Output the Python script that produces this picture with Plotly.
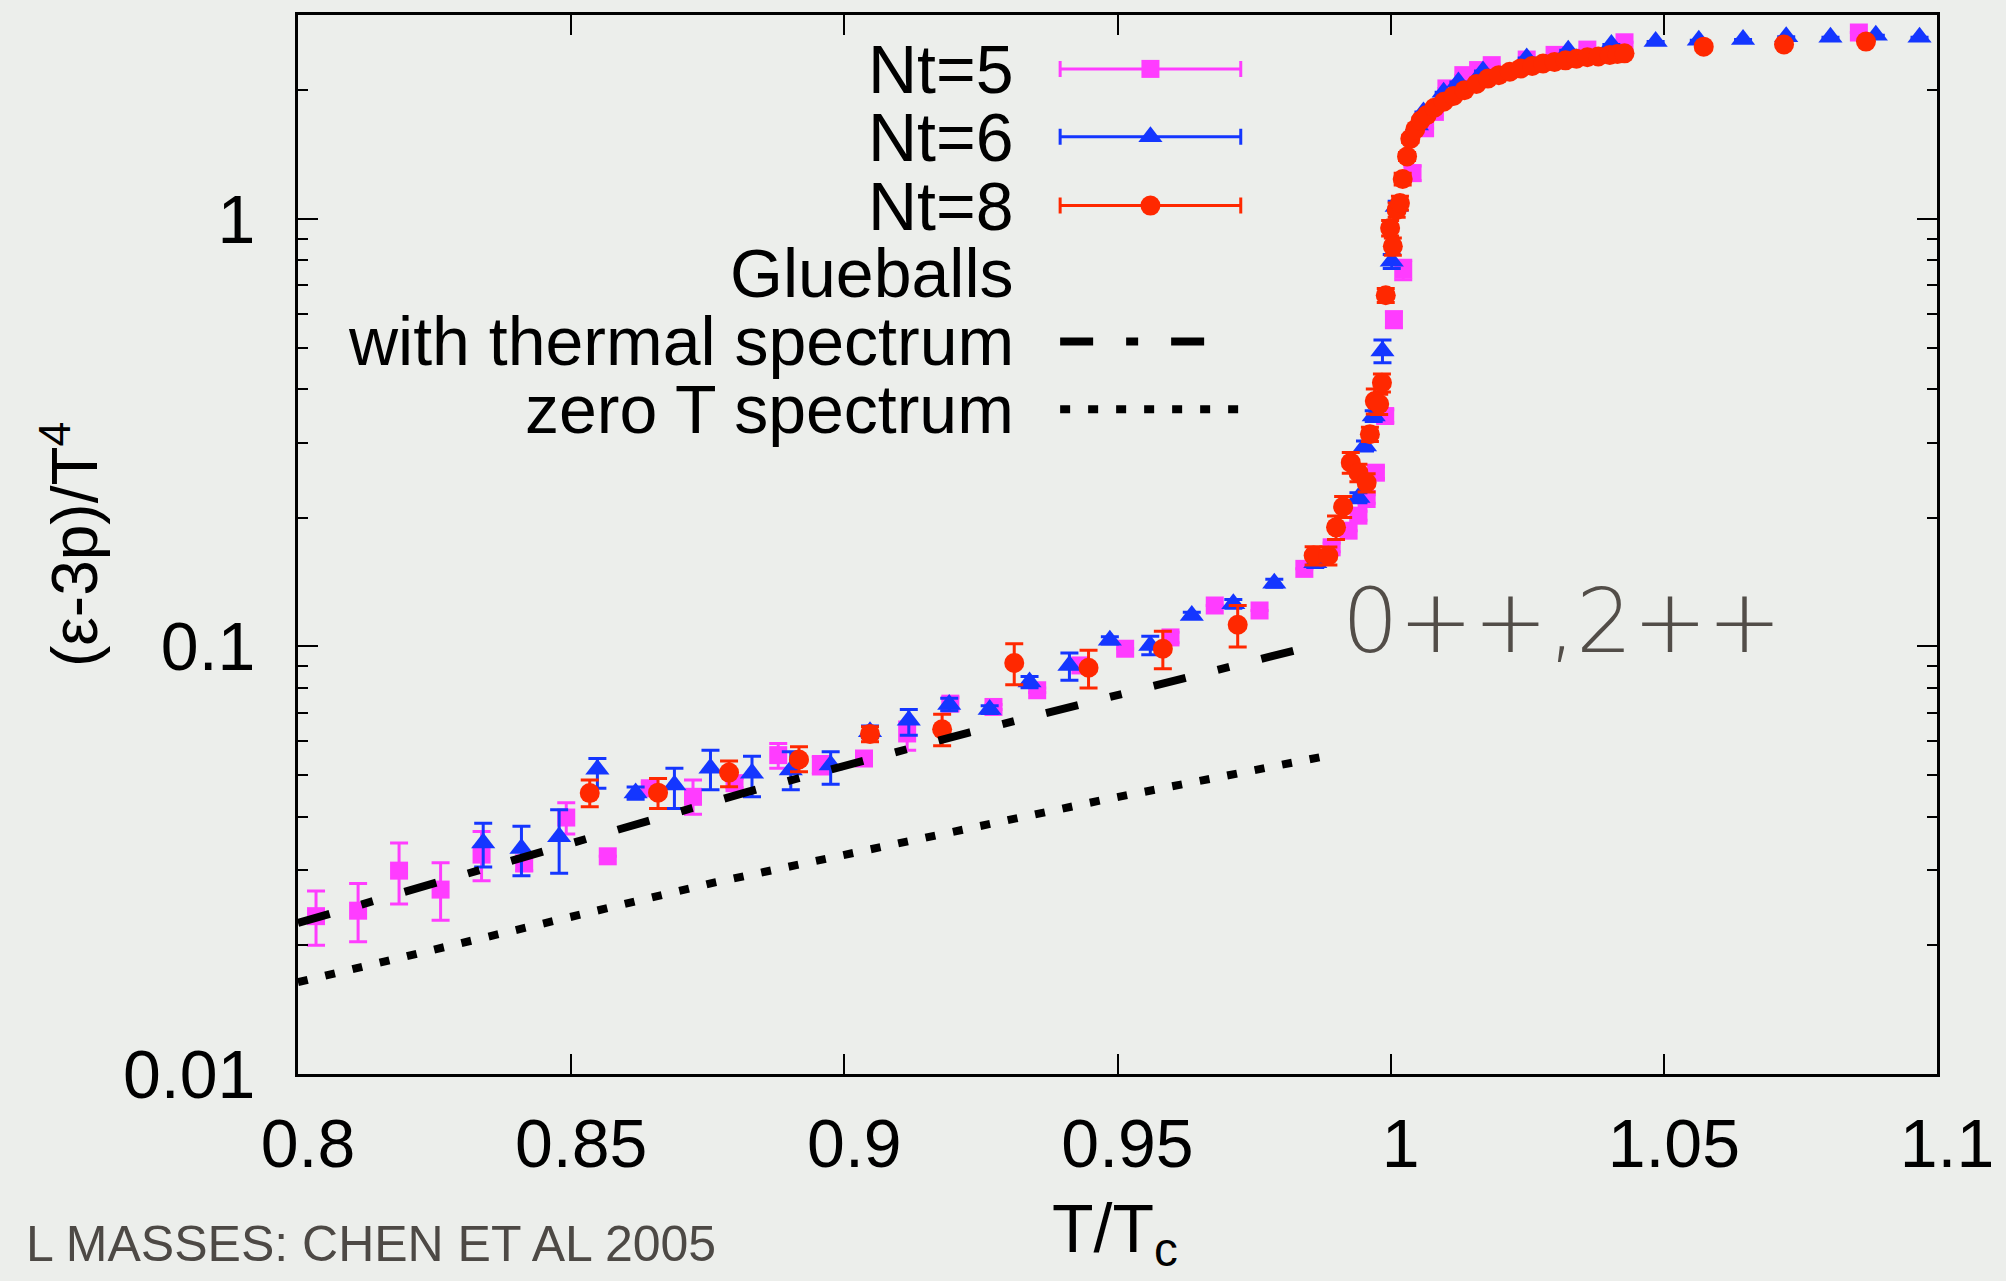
import numpy as np
import plotly.graph_objects as go

# ---------------- data ----------------
nt5_T = [0.8033, 0.8110, 0.8185, 0.8261, 0.8336, 0.8414, 0.8491, 0.8567, 0.8644, 0.8723,
         0.8799, 0.8879, 0.8957, 0.9036, 0.9115, 0.9194, 0.9273, 0.9353, 0.9432, 0.9514,
         0.9597, 0.9678, 0.9760, 0.9842, 0.9892, 0.9923, 0.9941, 0.9956, 0.9973, 0.9990,
         1.0006, 1.0023, 1.0040, 1.0063, 1.0081, 1.0102, 1.0133, 1.0160, 1.0185, 1.0249,
         1.0300, 1.0360, 1.0428, 1.0857]
nt5_y = [0.0234, 0.0241, 0.0299, 0.0270, 0.0326, 0.0311, 0.0398, 0.0323, 0.0466, 0.0445,
         0.0479, 0.0557, 0.0528, 0.0547, 0.0626, 0.0735, 0.0722, 0.0790, 0.0903, 0.0988,
         0.1050, 0.1247, 0.1214, 0.1519, 0.1706, 0.1866, 0.2023, 0.2213, 0.2550, 0.3460,
         0.5820, 0.7610, 1.2800, 1.6300, 1.7800, 2.0200, 2.1700, 2.2300, 2.2900, 2.3600,
         2.4200, 2.4900, 2.5900, 2.7300]
nt5_ep = [0.0034, 0.0038, 0.0048, 0.0042, 0.0043, 0.0012, 0.0033, 0.0, 0.0015, 0.0042,
          0.0012, 0.0036, 0.0025, 0.0010, 0.0040, 0.0025, 0.0010, 0.0010, 0.0020, 0.0,
          0.0030, 0.0, 0.0, 0.0, 0.0040, 0.0, 0.0050, 0.0050, 0.0080, 0.0120,
          0.0250, 0.0400, 0.0500, 0.0, 0.0, 0.0, 0.0, 0.0, 0.0, 0.0,
          0.0, 0.0, 0.0, 0.0]
nt5_em = [0.0034, 0.0037, 0.0049, 0.0041, 0.0043, 0.0012, 0.0034, 0.0, 0.0015, 0.0040,
          0.0012, 0.0038, 0.0025, 0.0010, 0.0054, 0.0025, 0.0010, 0.0010, 0.0020, 0.0,
          0.0030, 0.0, 0.0, 0.0, 0.0040, 0.0, 0.0050, 0.0050, 0.0080, 0.0120,
          0.0250, 0.0400, 0.0500, 0.0, 0.0, 0.0, 0.0, 0.0, 0.0, 0.0,
          0.0, 0.0, 0.0, 0.0]

nt6_T = [0.8339, 0.8409, 0.8478, 0.8548, 0.8618, 0.8689, 0.8755, 0.8831, 0.8902, 0.8975,
         0.9047, 0.9118, 0.9192, 0.9266, 0.9339, 0.9412, 0.9486, 0.9560, 0.9636, 0.9712,
         0.9787, 0.9862, 0.9941, 0.9953, 0.9969, 0.9985, 1.0002, 1.0011, 1.0048, 1.0060,
         1.0097, 1.0124, 1.0169, 1.0249, 1.0325, 1.0404, 1.0485, 1.0564, 1.0645, 1.0724,
         1.0805, 1.0888, 1.0968]
nt6_y = [0.0347, 0.0337, 0.0359, 0.0516, 0.0454, 0.0474, 0.0519, 0.0505, 0.0514, 0.0528,
         0.0632, 0.0672, 0.0732, 0.0712, 0.0826, 0.0903, 0.1034, 0.1006, 0.1182, 0.1258,
         0.1406, 0.1570, 0.2230, 0.2945, 0.3460, 0.4910, 0.7960, 1.0700, 1.6600, 1.7800,
         1.9800, 2.0900, 2.2200, 2.3800, 2.4800, 2.5600, 2.6000, 2.6200, 2.6300, 2.6700,
         2.6600, 2.6900, 2.6600]
nt6_ep = [0.0039, 0.0043, 0.0056, 0.0031, 0.0015, 0.0045, 0.0053, 0.0049, 0.0053, 0.0039,
          0.0020, 0.0040, 0.0025, 0.0015, 0.0025, 0.0062, 0.0020, 0.0050, 0.0020, 0.0030,
          0.0030, 0.0040, 0.0060, 0.0080, 0.0100, 0.0300, 0.0300, 0.0300, 0.0, 0.0,
          0.0, 0.0, 0.0, 0.0, 0.0, 0.0, 0.0, 0.0, 0.0, 0.0,
          0.0, 0.0, 0.0]
nt6_em = [0.0042, 0.0046, 0.0064, 0.0050, 0.0015, 0.0056, 0.0057, 0.0060, 0.0052, 0.0052,
          0.0020, 0.0052, 0.0025, 0.0015, 0.0025, 0.0069, 0.0020, 0.0050, 0.0020, 0.0030,
          0.0030, 0.0040, 0.0060, 0.0080, 0.0100, 0.0300, 0.0300, 0.0300, 0.0, 0.0,
          0.0, 0.0, 0.0, 0.0, 0.0, 0.0, 0.0, 0.0, 0.0, 0.0,
          0.0, 0.0, 0.0]

nt8_T = [0.8534, 0.8659, 0.8789, 0.8917, 0.9047, 0.9179, 0.9311, 0.9447, 0.9583, 0.9720,
         0.9859, 0.9886, 0.9900, 0.9913, 0.9927, 0.9941, 0.9956, 0.9962, 0.9971, 0.9979,
         0.9984, 0.9991, 0.9999, 1.0004, 1.0011, 1.0017, 1.0022, 1.0030, 1.0036, 1.0045,
         1.0055, 1.0066, 1.0080, 1.0097, 1.0115, 1.0135, 1.0157, 1.0178, 1.0198, 1.0218,
         1.0238, 1.0259, 1.0279, 1.0300, 1.0320, 1.0340, 1.0360, 1.0380, 1.0401, 1.0415,
         1.0428, 1.0573, 1.0720, 1.0870]
nt8_y = [0.0454, 0.0455, 0.0507, 0.0544, 0.0624, 0.0640, 0.0915, 0.0892, 0.0988, 0.1124,
         0.1632, 0.1630, 0.1900, 0.2122, 0.2692, 0.2550, 0.2417, 0.3136, 0.3750, 0.3690,
         0.4140, 0.6630, 0.9520, 0.8630, 1.0500, 1.0900, 1.2400, 1.4000, 1.5400, 1.6200,
         1.7000, 1.7500, 1.8200, 1.8800, 1.9400, 2.0000, 2.0700, 2.1300, 2.1700, 2.2100,
         2.2500, 2.2800, 2.3100, 2.3300, 2.3500, 2.3700, 2.3900, 2.4000, 2.4200, 2.4300,
         2.4400, 2.5300, 2.5600, 2.6000]
nt8_ep = [0.0033, 0.0036, 0.0033, 0.0039, 0.0025, 0.0054, 0.0100, 0.0088, 0.0098, 0.0123,
          0.0080, 0.0080, 0.0120, 0.0120, 0.0150, 0.0120, 0.0120, 0.0120, 0.0250, 0.0200,
          0.0200, 0.0250, 0.0400, 0.0400, 0.0400, 0.0400, 0.0400, 0.0300, 0.0300, 0.0,
          0.0, 0.0, 0.0, 0.0, 0.0, 0.0, 0.0, 0.0, 0.0, 0.0,
          0.0, 0.0, 0.0, 0.0, 0.0, 0.0, 0.0, 0.0, 0.0, 0.0,
          0.0, 0.0, 0.0, 0.0]
nt8_em = [0.0032, 0.0037, 0.0037, 0.0035, 0.0025, 0.0054, 0.0101, 0.0092, 0.0101, 0.0127,
          0.0080, 0.0080, 0.0120, 0.0120, 0.0150, 0.0120, 0.0120, 0.0120, 0.0250, 0.0200,
          0.0200, 0.0250, 0.0400, 0.0400, 0.0400, 0.0400, 0.0400, 0.0300, 0.0300, 0.0,
          0.0, 0.0, 0.0, 0.0, 0.0, 0.0, 0.0, 0.0, 0.0, 0.0,
          0.0, 0.0, 0.0, 0.0, 0.0, 0.0, 0.0, 0.0, 0.0, 0.0,
          0.0, 0.0, 0.0, 0.0]

thermal_T = [0.8000, 0.8229, 0.8823, 0.9228, 0.9631, 0.9861]
thermal_y = [0.02255, 0.02748, 0.0457, 0.0629, 0.0847, 0.1006]

zeroT_T = [0.8000, 0.8765, 0.9475, 0.9890]
zeroT_y = [0.0164, 0.0281, 0.0438, 0.0557]

x_tickvals = [0.8, 0.85, 0.9, 0.95, 1.0, 1.05, 1.1]
x_ticktext = ["0.8", "0.85", "0.9", "0.95", "1", "1.05", "1.1"]
y_tickvals = [0.01, 0.1, 1]
y_ticktext = ["0.01", "0.1", "1"]
y_minor = [0.02, 0.03, 0.04, 0.05, 0.06, 0.07, 0.08, 0.09,
           0.2, 0.3, 0.4, 0.5, 0.6, 0.7, 0.8, 0.9, 2]

legend_labels = ["Nt=5", "Nt=6", "Nt=8", "Glueballs", "with thermal spectrum", "zero T spectrum"]

# ---------------- styles ----------------
MAG = "#ff3cff"
BLU = "#1436ff"
RED = "#ff2800"
BG = "#eceeeb"
FONT = "Liberation Sans, Arial, Helvetica, sans-serif"
FS = 68

fig = go.Figure()

def series(T, y, ep, em, color, symbol, size, name):
    fig.add_trace(go.Scatter(
        x=T, y=y, mode="markers", name=name, showlegend=False,
        marker=dict(color=color, symbol=symbol, size=size, line=dict(width=0)),
        error_y=dict(type="data", array=ep, arrayminus=em, symmetric=False,
                     color=color, thickness=3, width=9),
    ))

series(nt5_T, nt5_y, nt5_ep, nt5_em, MAG, "square", 18, "Nt=5")
series(nt6_T, nt6_y, nt6_ep, nt6_em, BLU, "triangle-up", 21, "Nt=6")
series(nt8_T, nt8_y, nt8_ep, nt8_em, RED, "circle", 20, "Nt=8")

fig.add_trace(go.Scatter(x=thermal_T, y=thermal_y, mode="lines", showlegend=False,
                         line=dict(color="black", width=8, dash="33px,33px,12px,33px")))
fig.add_trace(go.Scatter(x=zeroT_T, y=zeroT_y, mode="lines", showlegend=False,
                         line=dict(color="black", width=8, dash="10px,18px")))

# ---------------- custom key (drawn on a hidden overlay axis, 0..1 of plot area) ----------------
key_text_x = 0.4382
key_rows = [0.9491, 0.8850, 0.8200, 0.7568, 0.6918, 0.6277]
key_x0, key_xc, key_x1 = 0.4650, 0.5201, 0.5752
key_dash_x1 = 0.5551

for (color, symbol, size), ry in zip([(MAG, "square", 18), (BLU, "triangle-up", 21), (RED, "circle", 20)],
                                     key_rows[:3]):
    fig.add_trace(go.Scatter(
        x=[key_xc], y=[ry], xaxis="x2", yaxis="y2", mode="markers", showlegend=False,
        marker=dict(color=color, symbol=symbol, size=size),
        error_x=dict(type="data", array=[key_x1 - key_xc], color=color, thickness=3, width=8),
    ))
fig.add_trace(go.Scatter(x=[key_x0, key_dash_x1], y=[key_rows[4]] * 2, xaxis="x2", yaxis="y2",
                         mode="lines", showlegend=False,
                         line=dict(color="black", width=8, dash="33px,33px,12px,33px")))
fig.add_trace(go.Scatter(x=[key_x0, key_x1], y=[key_rows[5]] * 2, xaxis="x2", yaxis="y2",
                         mode="lines", showlegend=False,
                         line=dict(color="black", width=8, dash="10px,18px")))

annotations = []
for lab, ry in zip(legend_labels, key_rows):
    annotations.append(dict(text=lab, x=key_text_x, y=ry, xref="paper", yref="paper",
                            xanchor="right", yanchor="middle", showarrow=False,
                            font=dict(family=FONT, size=FS, color="black")))

# axis titles
annotations.append(dict(text="(ε-3p)/T<sup>4</sup>", x=-0.1394, y=0.5, xref="paper", yref="paper",
                        xanchor="center", yanchor="middle", textangle=-90, showarrow=False,
                        font=dict(family=FONT, size=FS - 4, color="black")))
annotations.append(dict(text="T/T<sub>c</sub>", x=0.4985, y=-0.150, xref="paper", yref="paper",
                        xanchor="center", yanchor="middle", showarrow=False,
                        font=dict(family=FONT, size=FS, color="black")))
# hand-written notes
annotations.append(dict(text="0++,2++", x=0.636, y=0.428, xref="paper", yref="paper",
                        xanchor="left", yanchor="middle", showarrow=False,
                        font=dict(family="DejaVu Sans", size=89, color="#524d48", weight=300)))
annotations.append(dict(text="L MASSES: CHEN ET AL 2005", x=0.2562, y=-0.161, xref="paper", yref="paper",
                        xanchor="right", yanchor="middle", showarrow=False,
                        font=dict(family="Liberation Sans", size=50, color="#4d4945")))

fig.update_layout(
    width=2006, height=1281,
    margin=dict(l=298, r=65, t=13, b=207),
    paper_bgcolor=BG, plot_bgcolor=BG,
    showlegend=False,
    annotations=annotations,
    xaxis=dict(range=[0.8, 1.1], tickmode="array", tickvals=x_tickvals, ticktext=x_ticktext,
               ticks="inside", ticklen=20, tickwidth=2, tickcolor="black",
               showline=True, linewidth=3, linecolor="black", mirror="ticks",
               showgrid=False, zeroline=False, ticklabelstandoff=8, ticklabelshift=10,
               tickfont=dict(family=FONT, size=FS, color="black")),
    yaxis=dict(type="log", range=[-2, np.log10(3.0)], tickmode="array",
               tickvals=y_tickvals, ticktext=y_ticktext,
               ticks="inside", ticklen=20, tickwidth=2, tickcolor="black",
               minor=dict(tickmode="array", tickvals=y_minor, ticks="inside", ticklen=10,
                          tickwidth=2, tickcolor="black"),
               showline=True, linewidth=3, linecolor="black", mirror="ticks",
               showgrid=False, zeroline=False, ticklabelstandoff=26,
               tickfont=dict(family=FONT, size=FS, color="black")),
    xaxis2=dict(overlaying="x", range=[0, 1], visible=False, fixedrange=True),
    yaxis2=dict(overlaying="y", range=[0, 1], visible=False, fixedrange=True),
)

fig.write_html("out.html", config={"displayModeBar": False},
               post_script="document.body.style.margin='0';document.body.style.background='" + BG + "';")
